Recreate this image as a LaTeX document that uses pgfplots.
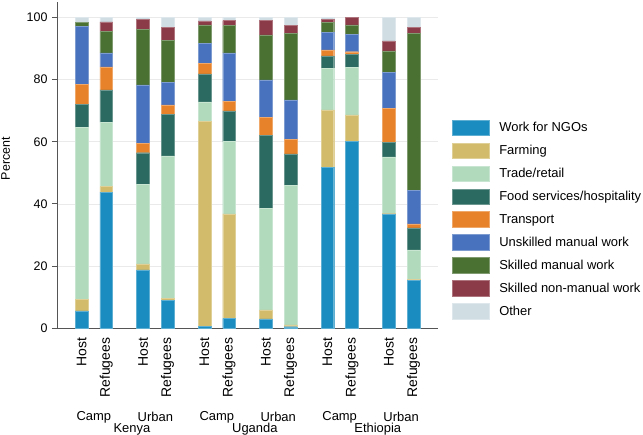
\documentclass[border=0pt]{standalone}
\usepackage{pgfplots}
\pgfplotsset{compat=1.18}
\usepackage{pgfplotstable}
\usepackage{fontspec}
\setmainfont{Liberation Sans}

\definecolor{cNGO}{HTML}{1A8CC0}
\definecolor{cFarm}{HTML}{D2BC6C}
\definecolor{cTrade}{HTML}{B1DABD}
\definecolor{cFood}{HTML}{2B6A60}
\definecolor{cTrans}{HTML}{E8822A}
\definecolor{cUnsk}{HTML}{4872BE}
\definecolor{cSkill}{HTML}{4A7032}
\definecolor{cSNM}{HTML}{8B3A47}
\definecolor{cOther}{HTML}{D0DEE4}
\definecolor{axisgray}{HTML}{555555}
\definecolor{gridgray}{HTML}{EAEAEA}

% Share of employed people by sector (percent), segments stacked bottom to top
\pgfplotstableread{
x    ngo  farm trade food trans unsk skill snm other
0    5.6  3.8  55.2  7.4  6.4  18.7  1.4  0.0  1.5
1    43.8 1.8  20.7  10.4 7.4  4.5   6.9  3.1  1.4
2.5  18.8 1.9  25.7  10.1 3.0  18.8  18.0 3.1  0.6
3.5  9.1  0.6  45.8  13.3 3.1  7.2   13.5 4.2  3.2
5    0.7  66.0 6.2   9.0  3.3  6.5   5.9  1.3  1.1
6    3.2  33.6 23.3  9.9  3.1  15.5  8.8  1.6  1.0
7.5  3.0  2.9  32.7  23.4 5.9  12.0  14.5 4.8  0.8
8.5  0.5  0.6  45.0  10.0 4.8  12.6  21.5 2.4  2.6
10   51.8 18.5 13.4  4.0  1.9  5.7   3.2  1.0  0.5
11   60.1 8.6  15.2  4.2  0.9  5.6   3.0  2.4  0.0
12.5 36.8 0.3  18.1  4.6  11.0 11.5  7.0  3.2  7.5
13.5 15.5 0.3  9.4   7.1  1.3  10.7  50.7 1.8  3.2
}\jobs

\begin{document}
\fontsize{13}{15.6}\selectfont
\begin{tikzpicture}
\useasboundingbox (0,0) rectangle (643bp,435bp);
\begin{axis}[
  at={(57bp,106.7bp)}, anchor=south west,
  scale only axis, width=381bp, height=326.3bp,
  xmin=-1, xmax=14.5, ymin=0, ymax=105,
  ybar stacked, bar width=12.7bp,
  clip=false,
  axis x line*=bottom, axis y line*=left,
  axis line style={draw=axisgray, line width=1bp},
  ytick={0,20,40,60,80,100},
  ymajorgrids, major grid style={draw=gridgray, line width=0.8bp},
  ytick style={draw=axisgray, line width=1bp},
  tick align=outside, major tick length=5bp,
  xtick={0,1,2.5,3.5,5,6,7.5,8.5,10,11,12.5,13.5},
  xticklabels={Host,Refugees,Host,Refugees,Host,Refugees,Host,Refugees,Host,Refugees,Host,Refugees},
  xtick style={draw=none},
  x tick label style={rotate=90, anchor=east, font=\fontsize{14}{16.8}\selectfont},
  y tick label style={font=\fontsize{12.5}{15}\selectfont},
  /pgf/number format/assume math mode=true,
  ylabel={Percent},
  ylabel style={at={(rel axis cs:-0.135,0.52)}, anchor=center, font=\fontsize{12.5}{15}\selectfont},
  every axis plot/.append style={line width=0.4bp},
  legend cell align=left,
  legend style={draw=none, fill=none, at={(rel axis cs:1.036,0.64)}, anchor=north west,
    inner sep=0pt, row sep=6.85bp, column sep=10bp,
    nodes={inner sep=0pt}, font=\fontsize{13}{15.6}\selectfont},
  legend image code/.code={\draw[#1] (0bp,-7.85bp) rectangle (37bp,7.85bp);},
]
\addplot[fill=cNGO,   draw=cNGO!70!white]   table[x=x,y=ngo]   {\jobs};
\addplot[fill=cFarm,  draw=cFarm!70!white]  table[x=x,y=farm]  {\jobs};
\addplot[fill=cTrade, draw=cTrade!70!white] table[x=x,y=trade] {\jobs};
\addplot[fill=cFood,  draw=cFood!70!white]  table[x=x,y=food]  {\jobs};
\addplot[fill=cTrans, draw=cTrans!70!white] table[x=x,y=trans] {\jobs};
\addplot[fill=cUnsk,  draw=cUnsk!70!white]  table[x=x,y=unsk]  {\jobs};
\addplot[fill=cSkill, draw=cSkill!70!white] table[x=x,y=skill] {\jobs};
\addplot[fill=cSNM,   draw=cSNM!70!white]   table[x=x,y=snm]   {\jobs};
\addplot[fill=cOther, draw=cOther!70!white] table[x=x,y=other] {\jobs};
\legend{Work for NGOs,Farming,Trade/retail,Food services/hospitality,Transport,Unskilled manual work,Skilled manual work,Skilled non-manual work,Other}

% site and country labels below the bars
\node[font=\fontsize{13}{15.6}\selectfont] at (axis cs:0.5,-28.5) {Camp};
\node[font=\fontsize{13}{15.6}\selectfont] at (axis cs:3,-28.5) {Urban};
\node[font=\fontsize{13}{15.6}\selectfont] at (axis cs:5.5,-28.5) {Camp};
\node[font=\fontsize{13}{15.6}\selectfont] at (axis cs:8,-28.5) {Urban};
\node[font=\fontsize{13}{15.6}\selectfont] at (axis cs:10.5,-28.5) {Camp};
\node[font=\fontsize{13}{15.6}\selectfont] at (axis cs:13,-28.5) {Urban};
\node[font=\fontsize{13}{15.6}\selectfont] at (axis cs:2.05,-32.4) {Kenya};
\node[font=\fontsize{13}{15.6}\selectfont] at (axis cs:7.05,-32.4) {Uganda};
\node[font=\fontsize{13}{15.6}\selectfont] at (axis cs:12.05,-32.4) {Ethiopia};
\end{axis}
\end{tikzpicture}
\end{document}
